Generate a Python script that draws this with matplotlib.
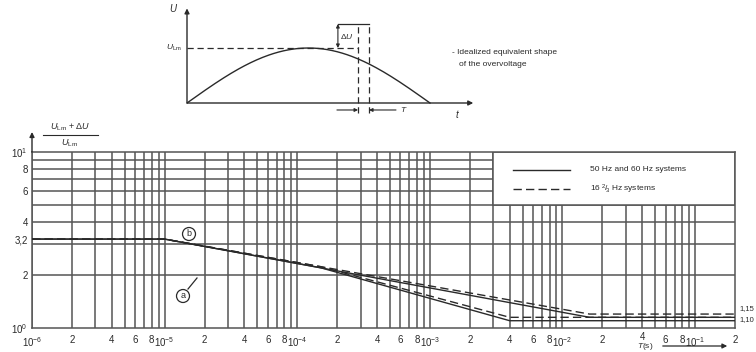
import numpy as np
import matplotlib
matplotlib.use("Agg")
import matplotlib.pyplot as plt
from matplotlib.patches import Rectangle, FancyArrowPatch
from matplotlib.transforms import ScaledTranslation

plt.rcParams["font.family"] = ["Liberation Sans", "DejaVu Sans"]
plt.rcParams["mathtext.fontset"] = "custom"
plt.rcParams["mathtext.rm"] = "Liberation Sans"
plt.rcParams["mathtext.it"] = "Liberation Sans:italic"

W, H = 756, 352
INK = "#2a2a2a"
GRID = "#555555"

# --- curves of the main chart (T in s, ratio (U_Lm + dU) / U_Lm) ---
T_b = [1e-6, 1e-5, 1.6e-2, 2e-1]
b_solid = [3.2, 3.2, 1.15, 1.15]
b_dashed = [3.2, 3.2, 1.2, 1.2]
T_a = [1e-6, 1e-5, 1.5e-4, 4e-3, 2e-1]
a_solid = [3.2, 3.2, 2.2, 1.10, 1.10]
a_dashed = [3.2, 3.2, 2.23, 1.15, 1.15]

x_decades = [-6, -5, -4, -3, -2, -1]
x_minor_labels = ["2", "4", "6", "8"]
y_ticks = [1, 2, 3.2, 4, 6, 8, 10]
y_labels = [r"$10^0$", "2", "3,2", "4", "6", "8", r"$10^1$"]
y_grid = [2, 3, 4, 5, 6, 7, 8, 9]
plateau_labels = ["1,15", "1,10"]
legend_labels = ["50 Hz and 60 Hz systems", r"16 $^{2}\!/\!_{3}$ Hz systems"]

# main axes placed in pixel units: x 32..735, y 152..328
AX_L, AX_R, AX_T, AX_B = 32, 735, 152, 328


def px_rect(x0, y0, x1, y1):
    return [x0 / W, 1 - y1 / H, (x1 - x0) / W, (y1 - y0) / H]


def ax_frac(px, py):
    return (px - AX_L) / (AX_R - AX_L), (AX_B - py) / (AX_B - AX_T)


fig = plt.figure(figsize=(W / 100, H / 100), dpi=100)
ax = fig.add_axes(px_rect(AX_L, AX_T, AX_R, AX_B))
ax.set_xscale("log")
ax.set_yscale("log")
ax.set_xlim(1e-6, 2e-1)
ax.set_ylim(1, 10)

# grid: every integer multiple in each decade
for d in x_decades[:-1]:
    for m in range(1, 10):
        ax.axvline(m * 10.0 ** d, color=GRID, lw=1.1, zorder=1)
ax.axvline(1e-1, color=GRID, lw=1.1, zorder=1)
for v in y_grid:
    ax.axhline(v, color=GRID, lw=1.1, zorder=1)

# legend box hides the grid in the upper right
ax.add_patch(Rectangle((3e-3, 5), 2e-1 - 3e-3, 5, facecolor="white",
                       edgecolor=GRID, lw=1.1, zorder=2))

ax.plot(T_b, b_solid, color=INK, lw=1.0, zorder=3)
ax.plot(T_b, b_dashed, color=INK, lw=1.0, ls=(0, (6, 3)), zorder=3)
ax.plot(T_a, a_solid, color=INK, lw=1.0, zorder=3)
ax.plot(T_a, a_dashed, color=INK, lw=1.0, ls=(0, (6, 3)), zorder=3)

# ticks
xt, xl = [], []
for d in x_decades:
    xt.append(10.0 ** d)
    xl.append(r"$10^{%d}$" % d)
    if d < -1:
        for s in x_minor_labels:
            xt.append(int(s) * 10.0 ** d)
            xl.append(s)
xt.append(2e-1)
xl.append("2")
ax.set_xticks(xt, xl)
ax.xaxis.set_minor_locator(plt.NullLocator())
ax.set_yticks(y_ticks, y_labels)
ax.yaxis.set_minor_locator(plt.NullLocator())
ax.tick_params(length=0, labelsize=7, colors=INK)
ax.tick_params(axis="x", pad=5)
ax.tick_params(axis="y", pad=3)
for sp in ax.spines.values():
    sp.set_color(GRID)
    sp.set_linewidth(1.1)

# the "4" above the T(s) caption sits a little higher
lift = ScaledTranslation(0, 2 / 72, fig.dpi_scale_trans)
for tk_val, lab in zip(xt, ax.get_xticklabels()):
    if np.isclose(tk_val, 4e-2):
        lab.set_transform(lab.get_transform() + lift)

# y-axis arrow
ax.annotate("", xy=(0, 1 + 20 / 176), xytext=(0, 1), xycoords="axes fraction",
            arrowprops=dict(arrowstyle="-|>", color=INK, lw=1.0,
                            mutation_scale=7, shrinkA=0, shrinkB=0),
            annotation_clip=False)

# y-label as fraction
fig.text(70 / W, 1 - 127 / H, r"$U_{\mathrm{Lm}}$ + $\Delta U$", ha="center",
         va="center", fontsize=6.5, color=INK)
fig.add_artist(plt.Line2D([43 / W, 98 / W], [1 - 135 / H, 1 - 135 / H],
                          color=INK, lw=0.8))
fig.text(69 / W, 1 - 143 / H, r"$U_{\mathrm{Lm}}$", ha="center", va="center",
         fontsize=6.5, color=INK)

# curve markers
for lab, (px, py) in [("b", (189, 234)), ("a", (183, 296))]:
    ax.text(*ax_frac(px, py), lab, transform=ax.transAxes, ha="center",
            va="center", fontsize=6.5, color=INK, zorder=4,
            bbox=dict(boxstyle="circle,pad=0.22", fc="white", ec=INK, lw=0.9))
ax.plot(*zip(ax_frac(188, 289), ax_frac(197, 278)), transform=ax.transAxes,
        color=INK, lw=0.9, zorder=4)

# legend content
for (py, ls), lab in zip([(170, "-"), (189, (0, (6, 3)))], legend_labels):
    ax.plot(*zip(ax_frac(513, py), ax_frac(570, py)), transform=ax.transAxes,
            color=INK, lw=1.0, ls=ls, zorder=3)
    ax.text(*ax_frac(590, py), lab, transform=ax.transAxes, ha="left",
            va="center", fontsize=6, color=INK, zorder=3)

# plateau labels at the right edge
for lab, py in zip(plateau_labels, [309, 320]):
    fig.text(754 / W, 1 - py / H, lab, ha="right", va="center", fontsize=5.5,
             color=INK)

# T(s) axis caption and arrow
fig.text(645 / W, 1 - 346.5 / H, r"$T$(s)", ha="center", va="center",
         fontsize=6, color=INK)
fig.add_artist(FancyArrowPatch(
    (660 / W, 1 - 346 / H), (730 / W, 1 - 346 / H), transform=fig.transFigure,
    arrowstyle="-|>", mutation_scale=7, color=INK, lw=0.9))

# --- inset: idealized overvoltage shape ---
t_end, t_cut1, t_cut2, t_du = 1.0, 0.704, 0.749, 0.621
u_peak, u_top, u_arrow = 1.0, 1.436, -0.127

ins = fig.add_axes(px_rect(187, 5, 475, 118))
ins.set_xlim(0, (475 - 187) / 243)
ins.set_ylim(-15 / 55, 98 / 55)
ins.axis("off")

t = np.linspace(0, t_end, 200)
ins.plot(t, u_peak * np.sin(np.pi * t / t_end), color=INK, lw=1.0)
ins.annotate("", xy=(0, 1.72), xytext=(0, 0),
             arrowprops=dict(arrowstyle="-|>", color=INK, lw=1.0,
                             mutation_scale=7, shrinkA=0, shrinkB=0))
ins.annotate("", xy=(1.178, 0), xytext=(0, 0),
             arrowprops=dict(arrowstyle="-|>", color=INK, lw=1.0,
                             mutation_scale=7, shrinkA=0, shrinkB=0))
ins.plot([0, t_cut1], [u_peak, u_peak], color=INK, lw=0.9, ls=(0, (5, 3)))
for tc in (t_cut1, t_cut2):
    ins.plot([tc, tc], [-0.18, u_top], color=INK, lw=0.9, ls=(0, (5, 3)))
ins.plot([t_du, t_cut2], [u_top, u_top], color=INK, lw=0.9)
ins.annotate("", xy=(t_du, u_peak), xytext=(t_du, u_top),
             arrowprops=dict(arrowstyle="<|-|>", color=INK, lw=0.8,
                             mutation_scale=5, shrinkA=0, shrinkB=0))
ins.text(t_du + 0.01, (u_peak + u_top) / 2, r"$\Delta U$", fontsize=6,
         ha="left", va="center", color=INK)
ins.annotate("", xy=(t_cut1, u_arrow), xytext=(0.617, u_arrow),
             arrowprops=dict(arrowstyle="-|>", color=INK, lw=0.8,
                             mutation_scale=5, shrinkA=0, shrinkB=0))
ins.annotate("", xy=(t_cut2, u_arrow), xytext=(0.86, u_arrow),
             arrowprops=dict(arrowstyle="-|>", color=INK, lw=0.8,
                             mutation_scale=5, shrinkA=0, shrinkB=0))
ins.text(0.875, u_arrow, r"$T$", fontsize=6, ha="left", va="center", color=INK)
ins.text(-0.035, 1.72, r"$U$", fontsize=7, ha="right", va="center", color=INK)
ins.text(-0.02, u_peak, r"$U_{\mathrm{Lm}}$", fontsize=6, ha="right",
         va="center", color=INK)
ins.text(1.115, -0.2, r"$t$", fontsize=7, ha="center", va="center", color=INK)

fig.text(452 / W, 1 - 53 / H, "- Idealized equivalent shape", fontsize=6,
         ha="left", va="center", color=INK)
fig.text(459 / W, 1 - 64 / H, "of the overvoltage", fontsize=6, ha="left",
         va="center", color=INK)

fig.savefig("out.png", dpi=100)
